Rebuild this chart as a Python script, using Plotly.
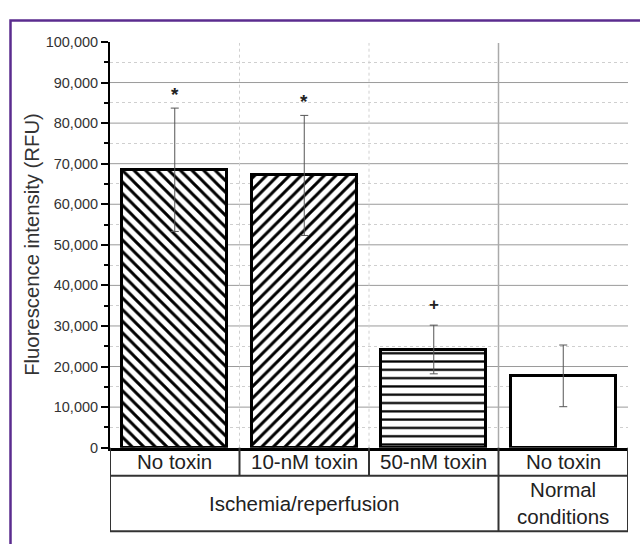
import plotly.graph_objects as go

# ---- data ----
conditions = ["No toxin", "10-nM toxin", "50-nM toxin", "No toxin"]
groups = ["Ischemia/reperfusion", "Normal<br>conditions"]
group_spans = [(0, 2), (3, 3)]
values = [68500, 67100, 24200, 17700]
errors = [15200, 14800, 6000, 7600]
marks = ["*", "*", "+", ""]
patterns = ["\\", "/", "-", ""]
y_title = "Fluorescence intensity (RFU)"
y_max, y_step = 100000, 10000

W, H = 640, 544
def py(p):  # pixel y -> paper y
    return 1 - p / H

x_pos = list(range(len(values)))
FONT = "Arial, Liberation Sans, sans-serif"

fig = go.Figure()
fig.add_trace(go.Bar(
    x=x_pos, y=values, width=0.81,
    marker=dict(color="white",
                line=dict(color="black", width=3),
                pattern=dict(shape=patterns, size=[8.2, 8.2, 8.3, 8], solidity=[0.36, 0.36, 0.27, 0.2],
                             fgcolor="black", bgcolor="white", fillmode="replace")),
    error_y=dict(type="data", array=errors, visible=True, color="#555", thickness=1, width=4),
    showlegend=False,
))

shapes = []
# major horizontal gridlines (none at the top edge)
for v in range(y_step, y_max, y_step):
    shapes.append(dict(type="line", xref="paper", yref="y", x0=110 / W, x1=628 / W, y0=v, y1=v,
                       line=dict(color="#9a9a9a", width=1), layer="below"))
# vertical guides between categories
for xb, dash, col in [(0.5, "dot", "#d0d0d0"), (1.5, "dot", "#d0d0d0"), (2.5, "solid", "#aaa")]:
    shapes.append(dict(type="line", xref="x", yref="paper", x0=xb, x1=xb, y0=py(453), y1=py(36),
                       line=dict(color=col, width=1.5 if dash == "solid" else 1, dash=dash), layer="below"))

tc = "#333"
# table
row0, row1, row2 = py(453), py(482), py(539)
shapes.append(dict(type="line", xref="x", yref="paper", x0=-0.5, x1=3.5, y0=row1, y1=row1, line=dict(color=tc, width=2)))
shapes.append(dict(type="line", xref="x", yref="paper", x0=-0.5, x1=3.5, y0=row2, y1=row2, line=dict(color=tc, width=2)))
for xb in [-0.5, 2.5, 3.5]:
    shapes.append(dict(type="line", xref="x", yref="paper", x0=xb, x1=xb, y0=row0, y1=row2, line=dict(color=tc, width=2)))
for xb in [0.5, 1.5]:
    shapes.append(dict(type="line", xref="x", yref="paper", x0=xb, x1=xb, y0=row0, y1=row1, line=dict(color=tc, width=2)))

# purple frame
shapes.append(dict(type="rect", xref="paper", yref="paper", x0=10.5 / W, x1=1.02, y0=-0.02, y1=py(13),
                   line=dict(color="#5b2c8f", width=2.5)))

annotations = []
for i, c in enumerate(conditions):
    annotations.append(dict(x=i, y=(row0 + row1) / 2, xref="x", yref="paper", text=c, showarrow=False,
                            font=dict(family=FONT, size=20.5, color="#222"), yanchor="middle"))
for g, (a, b) in zip(groups, group_spans):
    annotations.append(dict(x=(a + b) / 2, y=(row1 + row2) / 2, xref="x", yref="paper", text=g, showarrow=False,
                            font=dict(family=FONT, size=20.5, color="#222"), yanchor="middle"))
for i, m in enumerate(marks):
    if m:
        annotations.append(dict(x=i, y=values[i] + errors[i], xref="x", yref="y", text="<b>" + m + "</b>",
                                showarrow=False, yanchor="bottom", yshift=1 if m == "*" else 9,
                                font=dict(family=FONT, size=19 if m == "*" else 17, color="#222")))
annotations.append(dict(x=32 / W, y=(py(35) + py(453)) / 2, xref="paper", yref="paper", text=y_title,
                        textangle=-90, showarrow=False, xanchor="center", yanchor="middle",
                        font=dict(family=FONT, size=20.3, color="#333")))

fig.update_layout(
    width=W, height=H, margin=dict(l=0, r=0, t=0, b=0),
    paper_bgcolor="white", plot_bgcolor="white",
    shapes=shapes, annotations=annotations, bargap=0,
    xaxis=dict(domain=[110 / W, 628 / W], range=[-0.5, 3.5], showgrid=False, zeroline=False,
               showticklabels=False, ticks="", showline=True, linecolor="black", linewidth=2.5),
    yaxis=dict(domain=[py(453), py(35)], range=[0, y_max], dtick=y_step, tickformat=",",
               showgrid=False, zeroline=False,
               showline=True, linecolor="black", linewidth=2,
               ticks="outside", ticklen=7, tickwidth=2, tickcolor="black",
               tickfont=dict(family=FONT, size=14.5, color="#333"),
               minor=dict(dtick=y_step / 2, showgrid=True, gridcolor="#cfcfcf", griddash="dot", gridwidth=1,
                          ticks="outside", ticklen=4, tickwidth=2, tickcolor="black")),
)

fig.write_html("out.html")
